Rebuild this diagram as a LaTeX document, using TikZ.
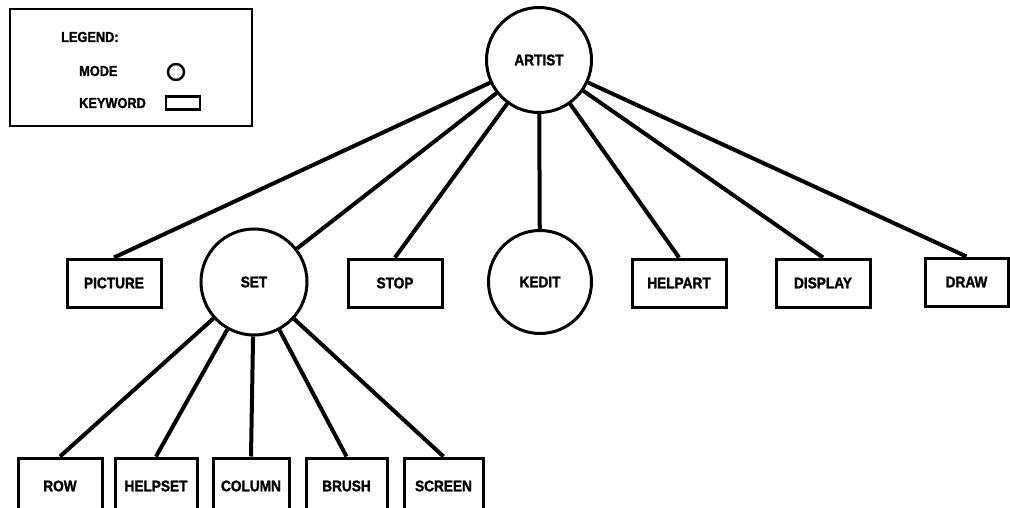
\documentclass[tikz,border=0pt]{standalone}
\usepackage{fontspec}
\setmainfont{Liberation Sans}
\newfontfamily\lblfont{Liberation Sans}[FakeStretch=0.88, BoldFeatures={FakeBold=1.5}]
\usetikzlibrary{positioning, calc}

\begin{document}
\begin{tikzpicture}[
    x=1pt, y=-1pt,
    % mode = circle, keyword = box
    mode_node/.style={circle, draw, line width=3pt, minimum size=103pt, inner sep=0pt, font=\lblfont\fontsize{15.5}{17}\selectfont\bfseries},
    key_node/.style={rectangle, draw, line width=3pt, minimum width=94pt, minimum height=48pt, inner sep=0pt, font=\lblfont\fontsize{15.5}{17}\selectfont\bfseries},
    link/.style={line width=4pt},
    lgd_lbl/.style={anchor=west, inner sep=0pt, font=\lblfont\fontsize{14.5}{17}\selectfont\bfseries}
]
    \useasboundingbox (0,0) rectangle (1010,508);

    % --- Legend ---
    \draw[line width=2.4pt] (10,9) rectangle (252,126);
    \node[lgd_lbl] (lgd_title) at (61,37) {LEGEND:};
    \node[lgd_lbl] (lgd_mode) at (79,71) {MODE};
    \node[lgd_lbl] (lgd_key) at (79,103) {KEYWORD};
    \node[circle, draw, line width=2.4pt, minimum size=16pt, inner sep=0pt] (lgd_circ) at (176,72) {};
    \node[rectangle, draw, line width=2.4pt, minimum width=34pt, minimum height=13pt, inner sep=0pt] (lgd_box) at (183,103) {};

    % --- Root and second level ---
    \node[mode_node, minimum size=105pt] (artist) at (539,60) {ARTIST};
    \node[mode_node, minimum size=106pt] (set) at (254,282) {SET};
    \node[mode_node] (kedit) at (540,282) {KEDIT};

    \foreach \nm/\x/\txt in {picture/114/PICTURE, stop/395/STOP, helpart/679/HELPART, display/823/DISPLAY}
        \node[key_node] (\nm) at (\x,283) {\txt};
    \node[key_node, minimum width=83pt] (draw) at (966.5,282) {DRAW};

    \draw[link] (artist) -- (picture.north);
    \draw[link] (artist) -- (set);
    \draw[link] (artist) -- (stop.north);
    \draw[link] (artist) -- (kedit);
    \draw[link] (artist) -- (helpart.north);
    \draw[link] (artist) -- (display.north);
    \draw[link] (artist) -- (draw.north);

    % --- Children of SET (boxes run off the bottom edge) ---
    \foreach \nm/\x/\w/\txt in {row/60/84/ROW, helpset/156/82/HELPSET, column/251/76/COLUMN, brush/346.5/81/BRUSH, screen/443.5/79/SCREEN} {
        \node[key_node, minimum width=\w pt, minimum height=56pt] (\nm) at (\x,486) {\txt};
        \draw[link] (set) -- (\nm.north);
    }

\end{tikzpicture}
\end{document}
